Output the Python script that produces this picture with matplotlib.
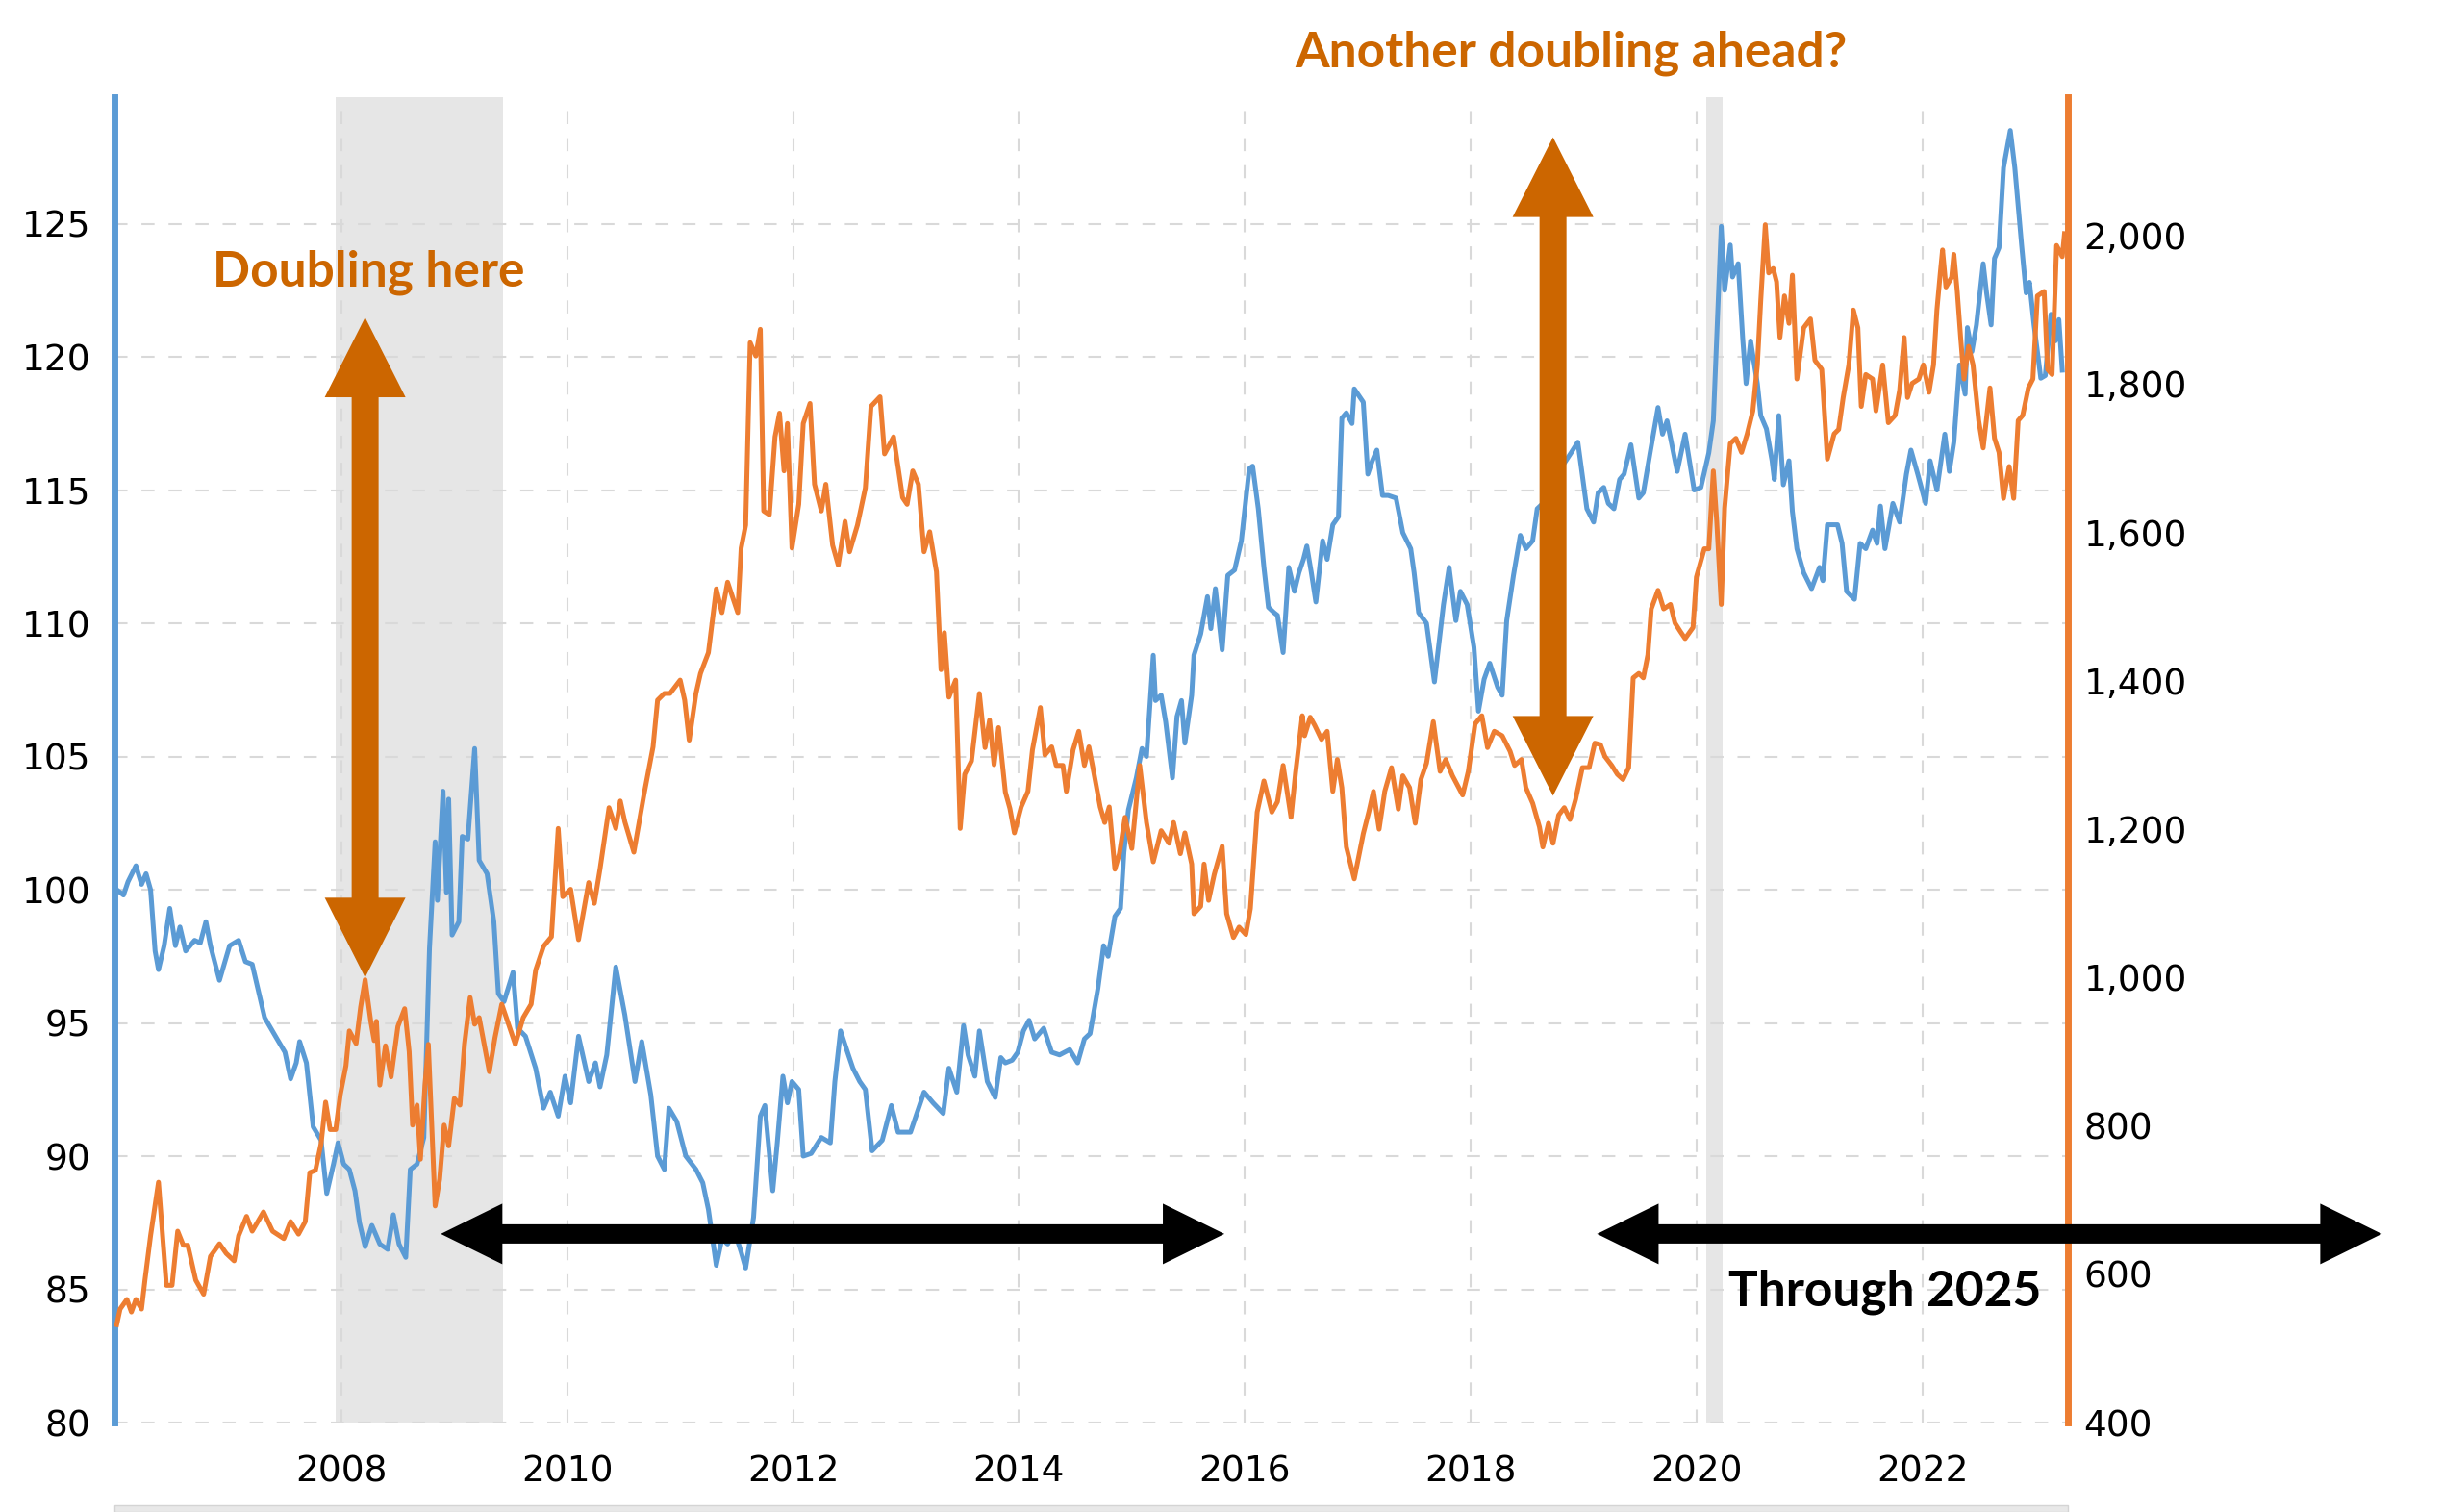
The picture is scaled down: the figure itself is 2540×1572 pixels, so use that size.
import matplotlib
matplotlib.use("Agg")
import numpy as np
import matplotlib.pyplot as plt
from matplotlib.patches import Polygon, Rectangle
from matplotlib.transforms import IdentityTransform
from matplotlib.ticker import FuncFormatter

# trade weighted dollar index (left axis)
dollar_years = [
    2006.01, 2006.07, 2006.11, 2006.18, 2006.23, 2006.27, 2006.31, 2006.35, 2006.38, 2006.43,
    2006.48, 2006.53, 2006.57, 2006.62, 2006.70, 2006.75, 2006.80, 2006.84, 2006.92, 2007.01,
    2007.09, 2007.15, 2007.21, 2007.32, 2007.43, 2007.50, 2007.55, 2007.60, 2007.63, 2007.69,
    2007.75, 2007.82, 2007.87, 2007.93, 2007.97, 2008.02, 2008.07, 2008.12, 2008.16, 2008.21,
    2008.27, 2008.34, 2008.41, 2008.46, 2008.51, 2008.57, 2008.61, 2008.67, 2008.73, 2008.78,
    2008.83, 2008.85, 2008.90, 2008.93, 2008.95, 2008.98, 2009.04, 2009.07, 2009.12, 2009.18,
    2009.22, 2009.29, 2009.35, 2009.39, 2009.44, 2009.52, 2009.56, 2009.63, 2009.72, 2009.79,
    2009.85, 2009.92, 2009.98, 2010.03, 2010.10, 2010.19, 2010.25, 2010.29, 2010.35, 2010.43,
    2010.51, 2010.60, 2010.66, 2010.74, 2010.80, 2010.86, 2010.90, 2010.97, 2011.05, 2011.14,
    2011.20, 2011.25, 2011.32, 2011.37, 2011.42, 2011.48, 2011.54, 2011.58, 2011.65, 2011.71,
    2011.75, 2011.82, 2011.86, 2011.91, 2011.95, 2011.99, 2012.05, 2012.09, 2012.16, 2012.25,
    2012.33, 2012.37, 2012.42, 2012.49, 2012.53, 2012.59, 2012.64, 2012.70, 2012.79, 2012.87,
    2012.93, 2013.04, 2013.16, 2013.24, 2013.33, 2013.38, 2013.45, 2013.51, 2013.55, 2013.61,
    2013.65, 2013.72, 2013.79, 2013.84, 2013.88, 2013.94, 2013.99, 2014.04, 2014.09, 2014.14,
    2014.22, 2014.29, 2014.36, 2014.45, 2014.52, 2014.58, 2014.63, 2014.70, 2014.75, 2014.79,
    2014.85, 2014.90, 2014.93, 2014.97, 2015.04, 2015.09, 2015.13, 2015.19, 2015.21, 2015.26,
    2015.30, 2015.36, 2015.40, 2015.44, 2015.47, 2015.53, 2015.55, 2015.61, 2015.67, 2015.70,
    2015.74, 2015.80, 2015.85, 2015.91, 2015.97, 2016.04, 2016.07, 2016.12, 2016.17, 2016.21,
    2016.26, 2016.29, 2016.34, 2016.39, 2016.44, 2016.48, 2016.52, 2016.55, 2016.59, 2016.63,
    2016.69, 2016.73, 2016.78, 2016.83, 2016.86, 2016.90, 2016.95, 2016.97, 2017.05, 2017.09,
    2017.13, 2017.17, 2017.22, 2017.27, 2017.34, 2017.40, 2017.47, 2017.50, 2017.54, 2017.61,
    2017.68, 2017.76, 2017.81, 2017.87, 2017.91, 2017.97, 2018.03, 2018.07, 2018.12, 2018.17,
    2018.24, 2018.28, 2018.32, 2018.38, 2018.44, 2018.49, 2018.55, 2018.59, 2018.64, 2018.75,
    2018.89, 2018.95, 2019.03, 2019.09, 2019.13, 2019.18, 2019.22, 2019.27, 2019.32, 2019.36,
    2019.42, 2019.49, 2019.53, 2019.59, 2019.66, 2019.70, 2019.74, 2019.83, 2019.90, 2019.98,
    2020.04, 2020.11, 2020.15, 2020.18, 2020.22, 2020.25, 2020.30, 2020.32, 2020.37, 2020.41,
    2020.44, 2020.48, 2020.54, 2020.57, 2020.62, 2020.67, 2020.69, 2020.73, 2020.77, 2020.82,
    2020.85, 2020.89, 2020.95, 2021.02, 2021.09, 2021.12, 2021.16, 2021.25, 2021.29, 2021.33,
    2021.40, 2021.45, 2021.50, 2021.56, 2021.60, 2021.63, 2021.67, 2021.74, 2021.80, 2021.86,
    2021.90, 2021.96, 2022.03, 2022.07, 2022.13, 2022.20, 2022.24, 2022.28, 2022.33, 2022.38,
    2022.40, 2022.44, 2022.48, 2022.54, 2022.57, 2022.61, 2022.64, 2022.68, 2022.72, 2022.78,
    2022.82, 2022.88, 2022.92, 2022.95, 2022.99, 2023.05, 2023.09, 2023.14, 2023.18, 2023.21,
    2023.24,
]
dollar_index = [
    100.0, 99.8, 100.3, 100.9, 100.2, 100.6, 100.0, 97.7, 97.0, 97.9,
    99.3, 97.9, 98.6, 97.7, 98.1, 98.0, 98.8, 97.9, 96.6, 97.9,
    98.1, 97.3, 97.2, 95.2, 94.4, 93.9, 92.9, 93.5, 94.3, 93.5,
    91.1, 90.6, 88.6, 89.7, 90.5, 89.7, 89.5, 88.7, 87.5, 86.6,
    87.4, 86.7, 86.5, 87.8, 86.7, 86.2, 89.5, 89.7, 90.7, 97.8,
    101.8, 99.6, 103.7, 99.9, 103.4, 98.3, 98.8, 102.0, 101.9, 105.3,
    101.1, 100.6, 98.8, 96.1, 95.8, 96.9, 94.8, 94.5, 93.3, 91.8,
    92.4, 91.5, 93.0, 92.0, 94.5, 92.8, 93.5, 92.6, 93.8, 97.1,
    95.3, 92.8, 94.3, 92.3, 90.0, 89.5, 91.8, 91.3, 90.0, 89.5,
    89.0, 88.0, 85.9, 86.9, 86.7, 87.2, 86.4, 85.8, 87.7, 91.5,
    91.9, 88.7, 90.5, 93.0, 92.0, 92.8, 92.5, 90.0, 90.1, 90.7,
    90.5, 92.8, 94.7, 93.8, 93.3, 92.8, 92.5, 90.2, 90.6, 91.9,
    90.9, 90.9, 92.4, 92.0, 91.6, 93.3, 92.4, 94.9, 93.8, 93.0,
    94.7, 92.8, 92.2, 93.7, 93.5, 93.6, 93.9, 94.7, 95.1, 94.4,
    94.8, 93.9, 93.8, 94.0, 93.5, 94.4, 94.6, 96.3, 97.9, 97.5,
    99.0, 99.3, 101.4, 103.0, 104.2, 105.3, 105.0, 108.8, 107.1, 107.3,
    106.3, 104.2, 106.5, 107.1, 105.5, 107.3, 108.8, 109.6, 111.0, 109.8,
    111.3, 109.0, 111.8, 112.0, 113.1, 115.8, 115.9, 114.3, 112.1, 110.6,
    110.4, 110.3, 108.9, 112.1, 111.2, 111.9, 112.4, 112.9, 111.9, 110.8,
    113.1, 112.4, 113.7, 114.0, 117.7, 117.9, 117.5, 118.8, 118.3, 115.6,
    116.1, 116.5, 114.8, 114.8, 114.7, 113.4, 112.8, 111.9, 110.4, 110.0,
    107.8, 110.7, 112.1, 110.1, 111.2, 110.7, 109.1, 106.7, 107.9, 108.5,
    107.6, 107.3, 110.1, 111.8, 113.3, 112.8, 113.1, 114.3, 114.5, 115.5,
    116.4, 116.8, 114.3, 113.8, 114.9, 115.1, 114.5, 114.3, 115.4, 115.6,
    116.7, 114.7, 114.9, 116.4, 118.1, 117.1, 117.6, 115.7, 117.1, 115.0,
    115.1, 116.4, 117.6, 120.7, 124.9, 122.5, 124.2, 123.0, 123.5, 120.7,
    119.0, 120.6, 119.0, 117.8, 117.3, 116.1, 115.4, 117.8, 115.2, 116.1,
    114.2, 112.8, 111.9, 111.3, 112.1, 111.6, 113.7, 113.7, 113.0, 111.2,
    110.9, 113.0, 112.8, 113.5, 113.0, 114.4, 112.8, 114.5, 113.8, 115.6,
    116.5, 115.6, 114.5, 116.1, 115.0, 117.1, 115.7, 116.8, 119.7, 118.6,
    121.1, 120.2, 121.2, 123.5, 122.4, 121.2, 123.7, 124.1, 127.1, 128.5,
    127.1, 124.2, 122.4, 122.8, 121.2, 119.2, 119.3, 121.6, 120.6, 121.4,
    119.5,
]

# gold price in USD (right axis)
gold_years = [
    2006.01, 2006.04, 2006.10, 2006.14, 2006.18, 2006.23, 2006.26, 2006.31, 2006.38, 2006.41,
    2006.45, 2006.50, 2006.55, 2006.60, 2006.64, 2006.71, 2006.78, 2006.84, 2006.92, 2006.98,
    2007.05, 2007.09, 2007.16, 2007.21, 2007.31, 2007.39, 2007.49, 2007.55, 2007.62, 2007.68,
    2007.72, 2007.77, 2007.82, 2007.86, 2007.90, 2007.95, 2007.99, 2008.04, 2008.07, 2008.13,
    2008.17, 2008.21, 2008.26, 2008.29, 2008.31, 2008.34, 2008.39, 2008.44, 2008.50, 2008.56,
    2008.60, 2008.63, 2008.67, 2008.70, 2008.74, 2008.77, 2008.83, 2008.87, 2008.91, 2008.95,
    2009.00, 2009.05, 2009.09, 2009.14, 2009.18, 2009.22, 2009.31, 2009.36, 2009.42, 2009.46,
    2009.54, 2009.61, 2009.68, 2009.72, 2009.79, 2009.86, 2009.89, 2009.92, 2009.96, 2010.03,
    2010.10, 2010.19, 2010.24, 2010.29, 2010.37, 2010.43, 2010.47, 2010.51, 2010.59, 2010.68,
    2010.76, 2010.80, 2010.86, 2010.91, 2011.00, 2011.04, 2011.08, 2011.14, 2011.18, 2011.25,
    2011.32, 2011.37, 2011.42, 2011.47, 2011.51, 2011.54, 2011.58, 2011.62, 2011.67, 2011.71,
    2011.74, 2011.79, 2011.84, 2011.88, 2011.92, 2011.95, 2011.99, 2012.05, 2012.09, 2012.15,
    2012.19, 2012.25, 2012.29, 2012.35, 2012.40, 2012.46, 2012.50, 2012.57, 2012.64, 2012.69,
    2012.77, 2012.81, 2012.89, 2012.97, 2013.01, 2013.06, 2013.11, 2013.16, 2013.21, 2013.27,
    2013.31, 2013.34, 2013.38, 2013.44, 2013.48, 2013.52, 2013.58, 2013.65, 2013.70, 2013.74,
    2013.78, 2013.82, 2013.88, 2013.92, 2013.96, 2014.02, 2014.08, 2014.12, 2014.19, 2014.23,
    2014.29, 2014.33, 2014.39, 2014.42, 2014.48, 2014.53, 2014.58, 2014.62, 2014.66, 2014.72,
    2014.76, 2014.80, 2014.85, 2014.89, 2014.94, 2015.00, 2015.07, 2015.13, 2015.19, 2015.26,
    2015.33, 2015.37, 2015.43, 2015.47, 2015.53, 2015.55, 2015.61, 2015.64, 2015.68, 2015.73,
    2015.80, 2015.84, 2015.90, 2015.95, 2016.01, 2016.05, 2016.11, 2016.17, 2016.24, 2016.29,
    2016.34, 2016.41, 2016.45, 2016.51, 2016.53, 2016.58, 2016.62, 2016.68, 2016.73, 2016.78,
    2016.82, 2016.86, 2016.90, 2016.97, 2017.05, 2017.10, 2017.14, 2017.19, 2017.24, 2017.30,
    2017.36, 2017.40, 2017.46, 2017.51, 2017.56, 2017.61, 2017.67, 2017.73, 2017.78, 2017.84,
    2017.93, 2017.98, 2018.04, 2018.10, 2018.15, 2018.21, 2018.28, 2018.35, 2018.39, 2018.45,
    2018.49, 2018.55, 2018.61, 2018.64, 2018.69, 2018.73, 2018.78, 2018.83, 2018.88, 2018.93,
    2018.99, 2019.05, 2019.10, 2019.15, 2019.19, 2019.25, 2019.30, 2019.35, 2019.40, 2019.44,
    2019.49, 2019.53, 2019.57, 2019.60, 2019.66, 2019.71, 2019.77, 2019.81, 2019.86, 2019.90,
    2019.97, 2020.00, 2020.07, 2020.11, 2020.15, 2020.18, 2020.22, 2020.25, 2020.30, 2020.35,
    2020.40, 2020.45, 2020.50, 2020.54, 2020.57, 2020.61, 2020.64, 2020.68, 2020.71, 2020.74,
    2020.78, 2020.82, 2020.85, 2020.89, 2020.95, 2021.01, 2021.05, 2021.11, 2021.16, 2021.22,
    2021.26, 2021.30, 2021.35, 2021.39, 2021.43, 2021.46, 2021.50, 2021.56, 2021.59, 2021.65,
    2021.70, 2021.76, 2021.80, 2021.84, 2021.87, 2021.91, 2021.97, 2022.01, 2022.06, 2022.10,
    2022.13, 2022.16, 2022.18, 2022.21, 2022.26, 2022.28, 2022.31, 2022.34, 2022.37, 2022.41,
    2022.45, 2022.50, 2022.54, 2022.60, 2022.64, 2022.68, 2022.72, 2022.77, 2022.81, 2022.85,
    2022.89, 2022.94, 2022.98, 2023.02, 2023.08, 2023.11, 2023.15, 2023.19, 2023.24, 2023.26,
]
gold_price = [
    532, 553, 566, 549, 566, 553, 592, 652, 724, 665,
    585, 585, 658, 639, 639, 592, 573, 624, 641, 628,
    618, 652, 678, 658, 684, 658, 648, 671, 654, 671,
    737, 740, 776, 832, 795, 795, 842, 881, 928, 911,
    960, 997, 941, 915, 941, 855, 908, 866, 934, 958,
    900, 801, 828, 755, 855, 910, 692, 728, 801, 773,
    837, 828, 910, 973, 937, 946, 873, 919, 964, 946,
    910, 946, 964, 1010, 1042, 1055, 1128, 1201, 1109, 1119,
    1051, 1128, 1100, 1146, 1229, 1201, 1238, 1210, 1169, 1247,
    1311, 1374, 1383, 1383, 1401, 1374, 1320, 1383, 1410, 1438,
    1524, 1492, 1533, 1510, 1492, 1579, 1610, 1856, 1838, 1874,
    1629, 1624, 1729, 1761, 1683, 1747, 1579, 1638, 1747, 1774,
    1665, 1629, 1665, 1583, 1556, 1615, 1574, 1610, 1660, 1770,
    1783, 1706, 1729, 1647, 1638, 1683, 1665, 1574, 1601, 1547,
    1415, 1465, 1378, 1401, 1201, 1274, 1292, 1383, 1310, 1347,
    1287, 1337, 1250, 1228, 1195, 1230, 1251, 1307, 1364, 1300,
    1311, 1286, 1286, 1251, 1307, 1332, 1286, 1311, 1279, 1230,
    1209, 1230, 1146, 1167, 1216, 1174, 1286, 1209, 1156, 1198,
    1181, 1209, 1167, 1195, 1153, 1086, 1096, 1153, 1104, 1139,
    1177, 1086, 1054, 1068, 1058, 1093, 1223, 1265, 1223, 1237,
    1286, 1216, 1276, 1353, 1326, 1351, 1340, 1321, 1332, 1251,
    1294, 1256, 1176, 1133, 1194, 1224, 1251, 1200, 1251, 1283,
    1227, 1272, 1256, 1208, 1267, 1289, 1345, 1278, 1294, 1272,
    1246, 1278, 1342, 1353, 1310, 1332, 1326, 1305, 1286, 1294,
    1256, 1235, 1203, 1176, 1208, 1181, 1219, 1229, 1213, 1240,
    1283, 1283, 1316, 1314, 1298, 1286, 1274, 1267, 1283, 1404,
    1410, 1404, 1435, 1497, 1522, 1497, 1503, 1478, 1466, 1457,
    1472, 1540, 1578, 1578, 1683, 1615, 1503, 1633, 1720, 1727,
    1708, 1733, 1764, 1826, 1913, 2015, 1950, 1956, 1938, 1863,
    1919, 1882, 1947, 1807, 1876, 1888, 1832, 1820, 1699, 1733,
    1739, 1782, 1826, 1900, 1876, 1770, 1813, 1807, 1764, 1826,
    1748, 1758, 1792, 1863, 1782, 1801, 1807, 1826, 1789, 1826,
    1900, 1950, 1981, 1931, 1944, 1975, 1925, 1863, 1807, 1851,
    1826, 1751, 1714, 1795, 1727, 1708, 1646, 1689, 1646, 1751,
    1758, 1795, 1807, 1919, 1925, 1820, 1813, 1987, 1972, 2003,
]

recessions = [(2007.95, 2009.43), (2020.09, 2020.23)]
year_ticks = [2008, 2010, 2012, 2014, 2016, 2018, 2020, 2022]
left_ticks = [80, 85, 90, 95, 100, 105, 110, 115, 120, 125]
right_ticks = [400, 600, 800, 1000, 1200, 1400, 1600, 1800, 2000]

BLUE = "#5B9BD5"
ORANGE = "#ED7D31"
ARROW_ORANGE = "#CC6600"
W, H = 2540, 1572

fig = plt.figure(figsize=(W / 100, H / 100), dpi=100)
ax = fig.add_axes([119 / W, 1 - 1479 / H, (2150 - 119) / W, (1479 - 101) / H])
ax.set_xlim(2005.99, 2023.29)
ax.set_ylim(80, 129.75)

for a, b in recessions:
    ax.axvspan(a, b, color="#e6e6e6", lw=0, zorder=0.1)

ax.set_axisbelow(True)
ax.grid(True, color="#d9d9d9", lw=1.5, linestyle=(0, (6.5, 7)))
ax.plot(dollar_years, dollar_index, color=BLUE, lw=3.6, zorder=2)

ax.set_xticks(year_ticks)
ax.set_xticklabels([str(y) for y in year_ticks])
ax.set_yticks(left_ticks)
ax.tick_params(axis="both", length=0, labelsize=27)
ax.tick_params(axis="x", pad=24)
ax.tick_params(axis="y", pad=18)
for s in ["top", "right", "bottom"]:
    ax.spines[s].set_visible(False)
ax.spines["left"].set_color(BLUE)
ax.spines["left"].set_linewidth(5)

ax2 = ax.twinx()
ax2.set_ylim(400, 2187)
ax2.plot(gold_years, gold_price, color=ORANGE, lw=3.6)
ax2.set_yticks(right_ticks)
ax2.yaxis.set_major_formatter(FuncFormatter(lambda v, p: f"{int(v):,}"))
ax2.tick_params(axis="y", length=0, labelsize=27, pad=12)
for s in ["top", "left", "bottom"]:
    ax2.spines[s].set_visible(False)
ax2.spines["right"].set_color(ORANGE)
ax2.spines["right"].set_linewidth(5)


def double_arrow(axis, p0, p1, color, shaft, head_w, head_l):
    # endpoints in data coords, sizes in pixels, drawn as one polygon
    a = axis.transData.transform(p0)
    b = axis.transData.transform(p1)
    u = (b - a) / np.hypot(*(b - a))
    n = np.array([-u[1], u[0]])
    ha, hb = a + u * head_l, b - u * head_l
    pts = [a, ha + n * head_w / 2, ha + n * shaft / 2, hb + n * shaft / 2,
           hb + n * head_w / 2, b, hb - n * head_w / 2, hb - n * shaft / 2,
           ha - n * shaft / 2, ha - n * head_w / 2]
    fig.add_artist(Polygon(pts, closed=True, facecolor=color, edgecolor="none",
                           transform=IdentityTransform(), zorder=5))


# doubling arrows (gold scale)
double_arrow(ax2, (2008.21, 1000), (2008.21, 1890), ARROW_ORANGE, 28, 84, 83)
double_arrow(ax2, (2018.73, 1245), (2018.73, 2133), ARROW_ORANGE, 28, 84, 83)
# period arrows
double_arrow(ax, (2008.88, 87.08), (2015.82, 87.08), "black", 20, 63, 64)
double_arrow(ax, (2019.12, 87.08), (2026.07, 87.08), "black", 20, 63, 64)

txt = dict(fontfamily="Lato", fontweight="bold", fontsize=37, ha="center", va="baseline")
ax.text(2008.24, 122.64, "Doubling here", color=ARROW_ORANGE, zorder=6, **txt)
ax.text(2018.89, 130.87, "Another doubling ahead?", color=ARROW_ORANGE, clip_on=False, **txt)
ax.text(2021.67, 84.37, "Through 2025", color="black", zorder=6, **txt)

# navigator strip at the bottom
fig.add_artist(Rectangle((119 / W, 0), (2150 - 119) / W, 7 / H, transform=fig.transFigure,
                         facecolor="#e8e8e8", edgecolor="#d4d4d4", lw=1))

fig.savefig("out.png", dpi=100)
